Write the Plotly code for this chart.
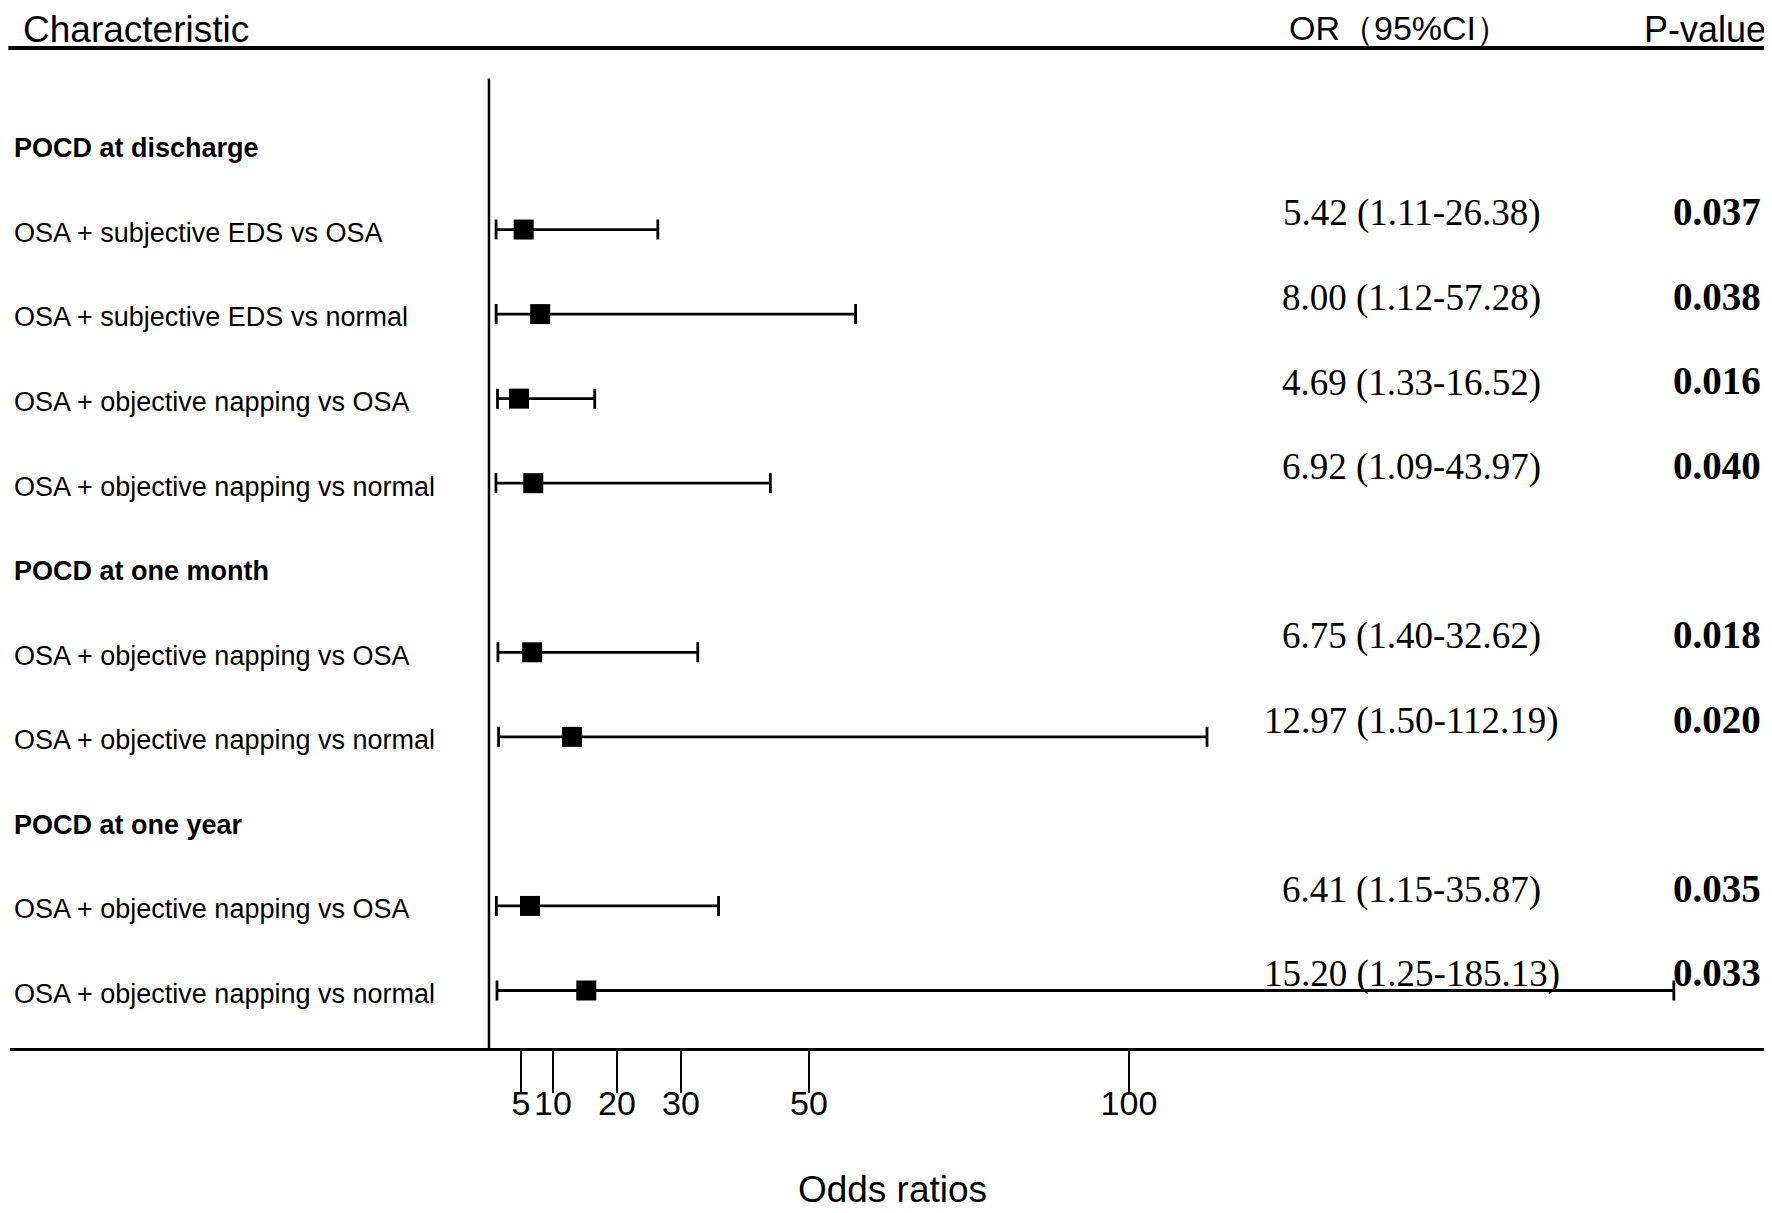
import plotly.graph_objects as go

# rows from top to bottom (group headings have no estimate)
row_labels = [
    "POCD at discharge",
    "OSA + subjective EDS vs OSA",
    "OSA + subjective EDS vs normal",
    "OSA + objective napping vs OSA",
    "OSA + objective napping vs normal",
    "POCD at one month",
    "OSA + objective napping vs OSA",
    "OSA + objective napping vs normal",
    "POCD at one year",
    "OSA + objective napping vs OSA",
    "OSA + objective napping vs normal",
]
is_heading = [True, False, False, False, False, True, False, False, True, False, False]
odds = [None, 5.42, 8.00, 4.69, 6.92, None, 6.75, 12.97, None, 6.41, 15.20]
ci_low = [None, 1.11, 1.12, 1.33, 1.09, None, 1.40, 1.50, None, 1.15, 1.25]
ci_high = [None, 26.38, 57.28, 16.52, 43.97, None, 32.62, 112.19, None, 35.87, 185.13]
p_values = ["", "0.037", "0.038", "0.016", "0.040", "", "0.018", "0.020", "", "0.035", "0.033"]
tick_vals = [5, 10, 20, 30, 50, 100]

SANS = "Arial, Liberation Sans, sans-serif"
SERIF = "Times New Roman, Liberation Serif, serif"

rows = list(range(len(row_labels)))
est_rows = [r for r in rows if odds[r] is not None]

fig = go.Figure()

fig.add_trace(go.Scatter(
    x=[odds[r] for r in est_rows],
    y=est_rows,
    mode="markers",
    marker=dict(symbol="square", size=20, color="black"),
    error_x=dict(
        type="data",
        symmetric=False,
        array=[ci_high[r] - odds[r] for r in est_rows],
        arrayminus=[odds[r] - ci_low[r] for r in est_rows],
        color="black",
        thickness=2.8,
        width=10,
    ),
    showlegend=False,
    hoverinfo="skip",
))

annotations = []
for r in rows:
    annotations.append(dict(
        x=0.0011, xref="paper", y=r + 0.04, yref="y",
        text="<b>%s</b>" % row_labels[r] if is_heading[r] else row_labels[r],
        showarrow=False, xanchor="left", yanchor="middle",
        font=dict(family=SANS, size=27, color="black"),
    ))
    if odds[r] is not None:
        annotations.append(dict(
            x=0.7943, xref="paper", y=r - 0.19, yref="y",
            text="%.2f (%.2f-%.2f)" % (odds[r], ci_low[r], ci_high[r]),
            showarrow=False, xanchor="center", yanchor="middle",
            font=dict(family=SERIF, size=37, color="black"),
        ))
        annotations.append(dict(
            x=0.9932, xref="paper", y=r - 0.21, yref="y",
            text="<b>%s</b>" % p_values[r],
            showarrow=False, xanchor="right", yanchor="middle",
            font=dict(family=SERIF, size=39, color="black"),
        ))

# column headers (text box starts at the top edge of the page)
header_y = 1.04
annotations.append(dict(x=0.0068, xref="paper", y=header_y, yref="paper", text="Characteristic",
                        showarrow=False, xanchor="left", yanchor="top", borderpad=0,
                        font=dict(family=SANS, size=37, color="black")))
annotations.append(dict(x=0.787, xref="paper", y=header_y, yref="paper", text="OR（95%CI）",
                        showarrow=False, xanchor="center", yanchor="top", borderpad=0,
                        font=dict(family=SANS, size=34, color="black")))
annotations.append(dict(x=0.9955, xref="paper", y=header_y, yref="paper", text="P-value",
                        showarrow=False, xanchor="right", yanchor="top", borderpad=0,
                        font=dict(family=SANS, size=36, color="black")))

shapes = [
    # header rule
    dict(type="line", xref="paper", yref="paper", x0=-0.001, x1=1, y0=1, y1=1,
         line=dict(color="black", width=4)),
    # reference line at 0
    dict(type="line", xref="x", yref="y", x0=0, x1=0, y0=-0.786, y1=10.68,
         line=dict(color="black", width=2.5)),
]

fig.update_layout(
    width=1772,
    height=1213,
    margin=dict(l=2, r=5, t=40, b=173),
    plot_bgcolor="white",
    paper_bgcolor="white",
    annotations=annotations,
    shapes=shapes,
    font=dict(family=SANS, color="black"),
)

fig.update_xaxes(
    range=[-74.84, 200.94],
    tickmode="array",
    tickvals=tick_vals,
    ticktext=[str(v) for v in tick_vals],
    ticks="outside",
    ticklen=42,
    tickwidth=2,
    tickcolor="black",
    tickfont=dict(family=SANS, size=34, color="black"),
    ticklabelstandoff=-19,
    showline=True,
    linecolor="black",
    linewidth=2.8,
    showgrid=False,
    zeroline=False,
    title=dict(text="Odds ratios", font=dict(family=SANS, size=37, color="black"), standoff=56),
)
fig.update_yaxes(
    range=[10.68, -1.147],
    visible=False,
    showgrid=False,
    zeroline=False,
)

fig.write_html("out.html")
